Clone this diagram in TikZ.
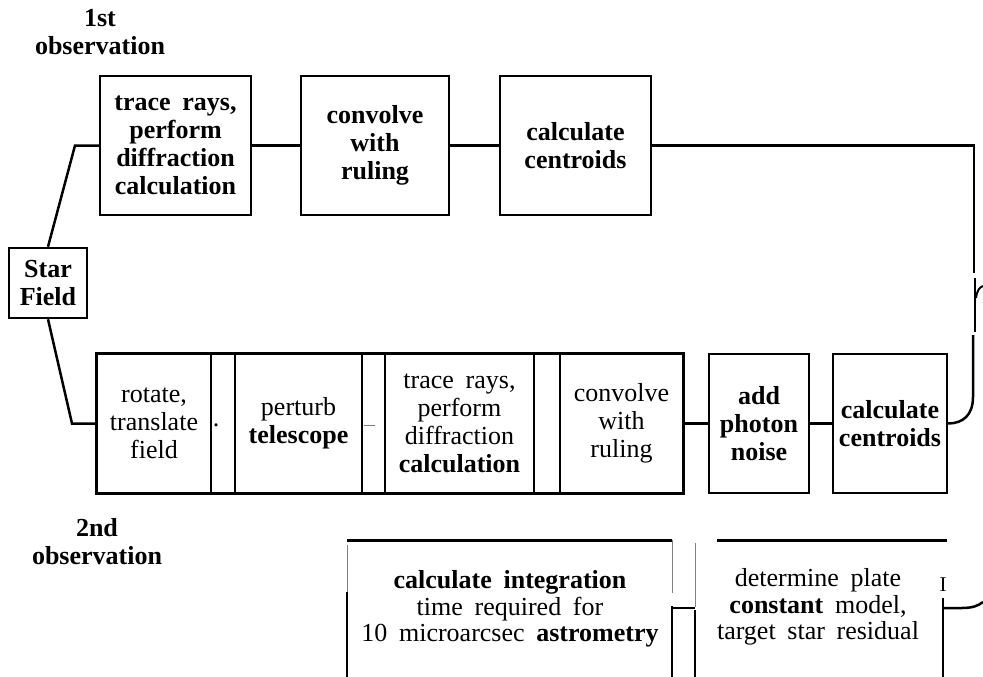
\documentclass[tikz,border=0pt]{standalone}
\usepackage{fontspec}
\setmainfont[WordSpace=1.8]{Liberation Serif}
\tikzset{
  bx/.style={draw, line width=2.5pt, inner sep=0pt, align=center, minimum height=139pt,
    font=\fontsize{26}{28}\selectfont\bfseries},
  cell/.style={draw, line width=1.5pt, inner sep=0pt, align=center, minimum height=139pt,
    font=\fontsize{26}{28}\selectfont},
  wire/.style={line width=2.5pt},
  thinl/.style={line width=1pt, gray},
  lbl/.style={font=\fontsize{26}{28}\selectfont\bfseries, align=center, inner sep=0pt},
  low/.style={font=\fontsize{26}{26.5}\selectfont, align=center, inner sep=0pt}
}
\begin{document}
\begin{tikzpicture}[x=1pt,y=-1pt]
\useasboundingbox (0,0) rectangle (983,677);

% labels
\node[lbl] (l1) at (100,32) {1st\\observation};
\node[lbl] (l2) at (97,542) {2nd\\observation};

% top row
\node[bx, minimum width=151pt] (b1) at (175.5,145.5) {trace rays,\\perform\\diffraction\\calculation};
\node[bx, minimum width=148pt] (b2) at (375,145.5) {convolve\\with\\ruling};
\node[bx, minimum width=151pt] (b3) at (575.5,145.5) {calculate\\centroids};
\node[bx, minimum width=78pt, minimum height=70pt] (star) at (48,283) {Star\\Field};

% bottom row
\node[cell, minimum width=114pt] (r1) at (154,423.5) {rotate,\\translate\\field};
\node[cell, minimum width=24pt] (g1) at (223,423.5) {};
\node[cell, minimum width=127pt] (r2) at (298.5,423.5) {perturb\\\textbf{telescope}};
\node[cell, minimum width=23pt] (g2) at (373.5,423.5) {};
\node[cell, minimum width=149pt] (r3) at (459.5,423.5) {trace rays,\\perform\\diffraction\\\textbf{calculation}};
\node[cell, minimum width=26pt] (g3) at (547,423.5) {};
\node[cell, minimum width=123pt] (r4) at (621.5,423.5) {convolve\\with\\ruling};
\draw[line width=3pt] (r1.north west) rectangle (r4.south east);
\node[inner sep=0pt, font=\fontsize{26}{28}\selectfont] (dot) at (216,425) {.};
\coordinate (da) at (364,425);
\coordinate (db) at (375,425);
\draw[gray, line width=0.8pt] (da) -- (db);

\node[bx, line width=2pt, minimum width=100pt] (noise) at (759,423.5) {add\\photon\\noise};
\node[bx, line width=2pt, minimum width=114pt] (cent2) at (890,423.5) {calculate\\centroids};

% connectors
\coordinate (k1) at (75,145.5);
\coordinate (k2) at (72,423.5);
\draw[wire] (star.north) -- (k1) -- (b1.west);
\draw[wire] (star.south) -- (k2) -- (r1.west);
\draw[wire] (b1.east) -- (b2.west);
\draw[wire] (b2.east) -- (b3.west);
\draw[wire] (r4.east) -- (noise.west);
\draw[wire] (noise.east) -- (cent2.west);

% right side
\coordinate (k3) at (974,145.5);
\coordinate (k4) at (974,273);
\coordinate (k5) at (975,278);
\coordinate (k6) at (975,332);
\coordinate (k7) at (976,298);
\coordinate (k8) at (983,286);
\coordinate (k9) at (973,335);
\coordinate (k10) at (973,397);
\draw[wire] (b3.east) -- (k3) -- (k4);
\draw[line width=2pt] (k5) -- (k6);
\draw[line width=2pt] (k7) .. controls (977,290) and (980,287) .. (k8);
\draw[wire] (k9) -- (k10) .. controls (973,415) and (963,423.5) .. (cent2.east);

% bottom section
\node[low] (int) at (510,609) {\textbf{calculate integration}\\time required for\\10 microarcsec \textbf{astrometry}};
\node[low] (plate) at (818,607) {determine plate\\\textbf{constant} model,\\target star residual};
\node[font=\fontsize{21}{22}\selectfont, inner sep=0pt] (mk) at (943,585) {I};
\draw[line width=3pt] (347,540) -- (672,540);
\draw[thinl] (347,545) -- (347,592);
\draw[line width=2.5pt] (347,592) -- (347,677);
\draw[thinl] (672,540) -- (672,593);
\draw[line width=1.5pt] (672,606) -- (672,677);
\draw[thinl] (695,543) -- (695,607);
\draw[line width=1.5pt] (695,610) -- (695,677);
\draw[line width=3pt] (717,540) -- (947,540);
\draw[line width=1.5pt] (943,598) -- (943,677);
\coordinate (iE) at (672,608);
\coordinate (pW) at (695,608);
\coordinate (pE) at (943,608);
\coordinate (pF) at (962,608);
\coordinate (pG) at (983,602);
\draw[wire] (iE) -- (pW);
\draw[wire] (pE) -- (pF) .. controls (972,608) and (978,606) .. (pG);
\end{tikzpicture}
\end{document}
